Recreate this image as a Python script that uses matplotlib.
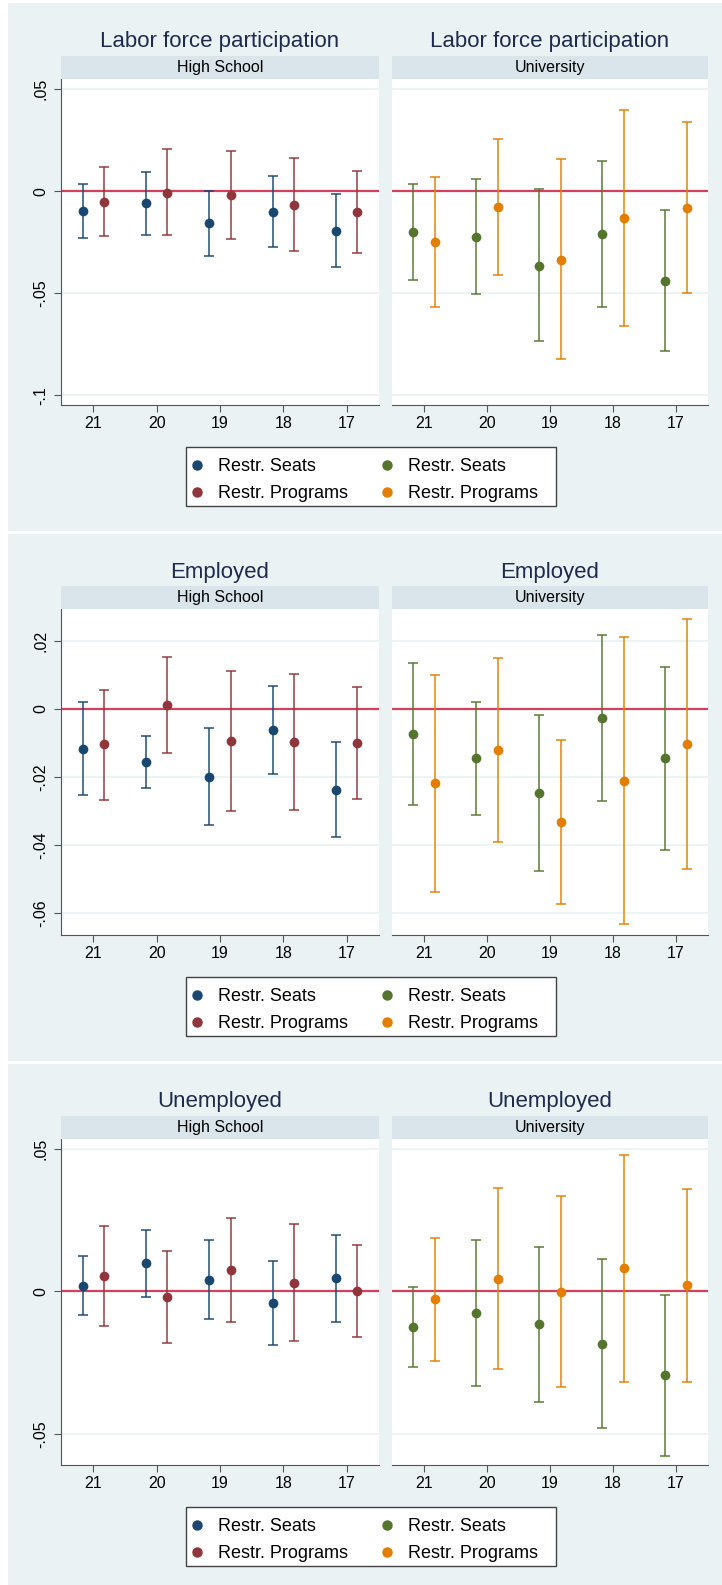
import matplotlib
matplotlib.use("Agg")
import matplotlib.pyplot as plt
from matplotlib.patches import Rectangle
from matplotlib.lines import Line2D

plt.rcParams['font.family'] = ['Liberation Sans', 'DejaVu Sans']

ages = [21, 20, 19, 18, 17]

# Labor force participation
lfp_hs_seats = [-0.0098, -0.0060, -0.0158, -0.0103, -0.0194]
lfp_hs_seats_ci = [(-0.0229, 0.0034), (-0.0214, 0.0095), (-0.0317, 0.0000), (-0.0276, 0.0075), (-0.0371, -0.0015)]
lfp_hs_progs = [-0.0054, -0.0008, -0.0020, -0.0069, -0.0103]
lfp_hs_progs_ci = [(-0.0219, 0.0116), (-0.0217, 0.0204), (-0.0235, 0.0198), (-0.0294, 0.0160), (-0.0304, 0.0100)]
lfp_un_seats = [-0.0200, -0.0223, -0.0366, -0.0211, -0.0439]
lfp_un_seats_ci = [(-0.0434, 0.0034), (-0.0505, 0.0061), (-0.0736, 0.0008), (-0.0570, 0.0149), (-0.0785, -0.0095)]
lfp_un_progs = [-0.0249, -0.0079, -0.0336, -0.0133, -0.0084]
lfp_un_progs_ci = [(-0.0566, 0.0067), (-0.0413, 0.0257), (-0.0825, 0.0156), (-0.0661, 0.0398), (-0.0500, 0.0336)]

# Employed
emp_hs_seats = [-0.0117, -0.0157, -0.0200, -0.0062, -0.0238]
emp_hs_seats_ci = [(-0.0254, 0.0020), (-0.0233, -0.0081), (-0.0342, -0.0056), (-0.0191, 0.0067), (-0.0377, -0.0098)]
emp_hs_progs = [-0.0105, 0.0012, -0.0095, -0.0098, -0.0100]
emp_hs_progs_ci = [(-0.0267, 0.0056), (-0.0129, 0.0153), (-0.0301, 0.0112), (-0.0297, 0.0102), (-0.0265, 0.0064)]
emp_un_seats = [-0.0074, -0.0146, -0.0249, -0.0028, -0.0146]
emp_un_seats_ci = [(-0.0283, 0.0135), (-0.0311, 0.0020), (-0.0478, -0.0019), (-0.0272, 0.0217), (-0.0414, 0.0122)]
emp_un_progs = [-0.0219, -0.0122, -0.0333, -0.0212, -0.0103]
emp_un_progs_ci = [(-0.0538, 0.0100), (-0.0393, 0.0150), (-0.0573, -0.0092), (-0.0634, 0.0212), (-0.0472, 0.0264)]

# Unemployed
une_hs_seats = [0.0019, 0.0098, 0.0041, -0.0040, 0.0046]
une_hs_seats_ci = [(-0.0084, 0.0123), (-0.0019, 0.0216), (-0.0095, 0.0179), (-0.0186, 0.0107), (-0.0106, 0.0199)]
une_hs_progs = [0.0054, -0.0020, 0.0075, 0.0028, 0.0000]
une_hs_progs_ci = [(-0.0121, 0.0229), (-0.0179, 0.0141), (-0.0107, 0.0258), (-0.0175, 0.0235), (-0.0161, 0.0161)]
une_un_seats = [-0.0125, -0.0076, -0.0114, -0.0183, -0.0292]
une_un_seats_ci = [(-0.0265, 0.0014), (-0.0332, 0.0181), (-0.0386, 0.0155), (-0.0480, 0.0113), (-0.0575, -0.0012)]
une_un_progs = [-0.0028, 0.0044, -0.0001, 0.0081, 0.0021]
une_un_progs_ci = [(-0.0245, 0.0188), (-0.0272, 0.0363), (-0.0334, 0.0333), (-0.0318, 0.0479), (-0.0318, 0.0360)]

outcomes = ["Labor force participation", "Employed", "Unemployed"]
ylims = [(-0.1048, 0.0549), (-0.0665, 0.0293), (-0.0608, 0.0534)]
yticks = [[0.05, 0, -0.05, -0.1], [0.02, 0, -0.02, -0.04, -0.06], [0.05, 0, -0.05]]
ylabels = [[".05", "0", "-.05", "-.1"], [".02", "0", "-.02", "-.04", "-.06"], [".05", "0", "-.05"]]

rows = [
    [(lfp_hs_seats, lfp_hs_seats_ci, lfp_hs_progs, lfp_hs_progs_ci),
     (lfp_un_seats, lfp_un_seats_ci, lfp_un_progs, lfp_un_progs_ci)],
    [(emp_hs_seats, emp_hs_seats_ci, emp_hs_progs, emp_hs_progs_ci),
     (emp_un_seats, emp_un_seats_ci, emp_un_progs, emp_un_progs_ci)],
    [(une_hs_seats, une_hs_seats_ci, une_hs_progs, une_hs_progs_ci),
     (une_un_seats, une_un_seats_ci, une_un_progs, une_un_progs_ci)],
]

navy, maroon, green, orange = "#1a476f", "#90353b", "#55752f", "#e37e00"
colors = [(navy, maroon), (green, orange)]
strip_names = ["High School", "University"]
bg = "#eaf2f3"
W, H = 722, 1585

fig = plt.figure(figsize=(W / 100, H / 100), dpi=100, facecolor="white")


def fx(x):
    return x / W


def fy(y):
    return 1 - y / H


def box(x0, y0, x1, y1):
    # pixel box (from top-left) -> figure fraction rect
    return [fx(x0), fy(y1), fx(x1) - fx(x0), fy(y0) - fy(y1)]


# section backgrounds
for y0, y1 in [(3, 531), (534, 1061), (1064, 1585)]:
    fig.patches.append(Rectangle((fx(8), fy(y1)), 1 - fx(8), fy(y0) - fy(y1),
                                 transform=fig.transFigure, facecolor=bg,
                                 edgecolor="none", zorder=-10))

panels_x = [(61, 379), (392, 708)]
x = list(range(1, 6))

for r in range(3):
    base = 530 * r
    for c in range(2):
        x0, x1 = panels_x[c]
        ax = fig.add_axes(box(x0, base + 79, x1, base + 405))
        ax.set_facecolor("white")
        seats, seats_ci, progs, progs_ci = rows[r][c]
        cs, cp = colors[c]
        for off, est, ci, col in [(-0.17, seats, seats_ci, cs), (0.17, progs, progs_ci, cp)]:
            xs = [i + off for i in x]
            lo = [est[i] - ci[i][0] for i in range(5)]
            hi = [ci[i][1] - est[i] for i in range(5)]
            ax.errorbar(xs, est, yerr=[lo, hi], fmt="none", ecolor=col, alpha=0.75,
                        elinewidth=1.4, capsize=3.8, capthick=1.4, zorder=3)
            ax.plot(xs, est, "o", color=col, markersize=7, zorder=4, markeredgewidth=0)
        ax.axhline(0, color="#d6405d", lw=1.6, zorder=2)
        ax.set_xlim(0.49, 5.51)
        ax.set_ylim(*ylims[r])
        ax.set_yticks(yticks[r])
        ax.yaxis.grid(True, color=bg, lw=1.2)
        ax.set_axisbelow(True)
        ax.set_xticks(x)
        ax.set_xticklabels([str(a) for a in ages], fontsize=11.5)
        ax.tick_params(axis="x", length=5, color="#555555", pad=3)
        for s in ["top", "right"]:
            ax.spines[s].set_visible(False)
        ax.spines["bottom"].set_color("#555555")
        ax.spines["left"].set_color("#555555")
        if c == 0:
            ax.set_yticklabels(ylabels[r], rotation=90, va="center", fontsize=11.5)
            ax.tick_params(axis="y", length=5, color="#555555", pad=4)
        else:
            ax.spines["left"].set_visible(False)
            ax.tick_params(axis="y", length=0, labelleft=False)

        # strip
        sax = fig.add_axes(box(x0, base + 56, x1, base + 79))
        sax.set_facecolor("#d9e5eb")
        sax.set_xticks([])
        sax.set_yticks([])
        for s in sax.spines.values():
            s.set_visible(False)
        sax.text(0.5, 0.5, strip_names[c], ha="center", va="center", fontsize=11.5,
                 transform=sax.transAxes)
        fig.text(fx((x0 + x1) / 2), fy(base + 42), outcomes[r], ha="center", va="center",
                 fontsize=16, color="#1e2b4f")

    # legend box
    fig.patches.append(Rectangle((fx(186), fy(base + 506)), fx(556) - fx(186),
                                 fy(base + 447) - fy(base + 506), transform=fig.transFigure,
                                 facecolor="white", edgecolor="#444444", lw=1.0, zorder=5))
    handles = [Line2D([], [], ls="none", marker="o", color=col, markersize=6.5)
               for col in [navy, maroon, green, orange]]
    labels = ["Restr. Seats", "Restr. Programs", "Restr. Seats", "Restr. Programs"]
    leg = fig.legend(handles, labels, ncol=2, loc="upper left",
                     bbox_to_anchor=(fx(186), fy(base + 453)),
                     fontsize=13, frameon=False, handletextpad=0.85,
                     borderaxespad=0, handlelength=0.6, labelspacing=0.55,
                     borderpad=0.3, columnspacing=1.9)
    leg.set_zorder(6)

# white separator lines
for y in [532.5, 1062.5]:
    fig.add_artist(Line2D([fx(8), 1], [fy(y), fy(y)], color="white", lw=1.5,
                          transform=fig.transFigure))

fig.savefig("out.png", dpi=100, facecolor="white")
